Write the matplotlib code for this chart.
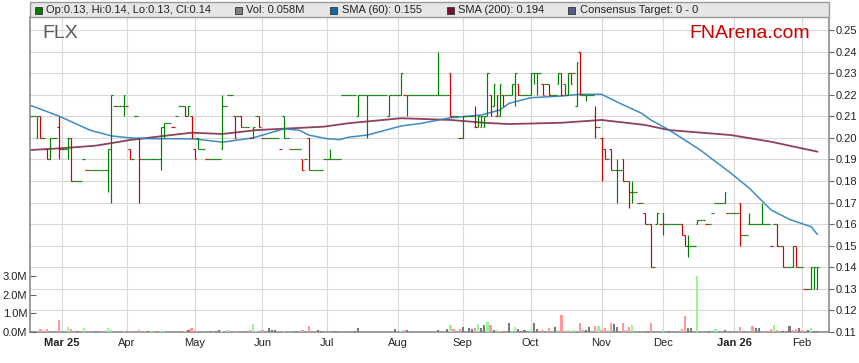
import numpy as np
import pandas as pd
import matplotlib
matplotlib.use('Agg')
from matplotlib import pyplot as plt
from matplotlib.patches import Rectangle

plt.rcParams['font.family'] = ['Liberation Sans', 'DejaVu Sans']

# business days on the chart, index 0 = 17 Feb 2025
start_day = '2025-02-17'
n_days = 256

# daily close
closes = [
    .21, .21, .21, .20, .20, .19, .20, .20, .20, .195,
    .195, .195, .20, .18, .18, .18, .18, .19, .185, .185,
    .185, .185, .185, .185, .185, .195, .22, .215, .215, .215,
    .22, .215, .19, .19, .21, .19, .19, .19, .19, .19,
    .19, .19, .205, .207, .207, .207, .205, .21, .215, .215,
    .21, .215, .20, .19, .195, .195, .195, .19, .19, .19,
    .19, .19, .215, .215, .22, .22, .20, .21, .205, .205,
    .205, .20, .205, .21, .205, .20, .20, .20, .20, .20,
    .20, .195, .20, .20, .195, .195, .195, .195, .185, .19,
    .185, .185, .185, .185, .185, .19, .19, .19, .19, .19,
    .19, .22, .22, .22, .22, .22, .22, .22, .22, .22,
    .22, .22, .22, .22, .22, .22, .22, .22, .22, .22,
    .23, .22, .22, .22, .22, .22, .22, .22, .22, .22,
    .22, .22, .22, .22, .22, .22, .21, .21, .21, .20,
    .21, .21, .21, .21, .205, .21, .21, .21, .23, .21,
    .225, .22, .225, .215, .22, .22, .225, .23, .22, .22,
    .22, .22, .23, .23, .23, .23, .22, .225, .22, .22,
    .22, .23, .22, .22, .23, .225, .23, .235, .22, .22,
    .22, .22, .22, .205, .205, .20, .19, .19, .185, .185,
    .185, .185, .18, .18, .175, .175, .175, .17, .17, .16,
    .16, .14, .14, .165, .16, .16, .16, .16, .16, .16,
    .16, .155, .15, .15, .15, .15, .162, .162, .162, .16,
    .16, .165, .17, .17, .17, .175, .165, .165, .165, .165,
    .155, .155, .155, .16, .16, .16, .16, .16, .16, .16,
    .15, .16, .15, .15, .14, .14, .14, .15, .14, .14,
    .14, .13, .13, .14, .14, .14,
]

# days that traded a range (all other days are flat at the close)
range_idx = [2, 3, 5, 6, 9, 12, 13, 25, 26, 30, 32, 35, 42, 43, 50, 51, 52, 53, 54,
             62, 66, 68, 72, 74, 82, 88, 90, 97, 106, 109, 116, 120, 122, 132, 136,
             140, 144, 145, 146, 147, 148, 149, 150, 151, 152, 153, 156, 157, 158,
             162, 163, 164, 166, 168, 171, 172, 173, 174, 175, 177, 178, 180, 183,
             185, 186, 188, 190, 192, 194, 195, 199, 201, 203, 205, 211, 212, 213,
             216, 225, 230, 233, 237, 242, 244, 247, 248, 253, 254, 255]
range_open = [.20, .21, .195, .19, .205, .20, .20, .185, .195, .215, .195, .20, .19, .205,
              .215, .21, .21, .195, .20, .195, .21, .21, .20, .21, .21, .19, .20, .19,
              .21, .22, .21, .22, .22, .22, .23, .20, .205, .205, .205, .205, .21, .22,
              .215, .21, .21, .22, .22, .225, .225, .22, .23, .23, .225, .225, .225,
              .23, .225, .22, .23, .215, .24, .22, .21, .20, .195, .195, .185, .19,
              .18, .175, .165, .16, .16, .165, .16, .155, .15, .16, .17, .17, .16, .16,
              .16, .15, .14, .15, .13, .13, .13]
range_high = [.21, .21, .195, .20, .21, .20, .20, .195, .22, .22, .195, .20, .205, .207,
              .215, .215, .21, .195, .20, .22, .21, .21, .205, .21, .21, .19, .20, .195,
              .22, .22, .22, .23, .22, .24, .23, .21, .215, .21, .21, .21, .23, .22,
              .225, .22, .225, .22, .225, .23, .225, .23, .23, .23, .225, .225, .23,
              .23, .225, .23, .23, .235, .24, .22, .215, .20, .195, .195, .19, .19,
              .18, .18, .165, .16, .165, .165, .16, .155, .155, .162, .175, .17, .165,
              .17, .16, .15, .15, .15, .14, .14, .14]
range_low = [.20, .20, .19, .19, .19, .19, .18, .175, .17, .21, .19, .17, .185, .20,
             .21, .21, .20, .19, .195, .195, .20, .205, .20, .205, .20, .185, .185, .19,
             .21, .20, .21, .22, .21, .22, .21, .20, .205, .205, .205, .205, .21, .21,
             .215, .21, .21, .215, .22, .215, .22, .22, .225, .22, .22, .22, .225,
             .22, .22, .22, .225, .215, .22, .217, .20, .18, .19, .185, .17, .18,
             .1675, .17, .16, .14, .16, .155, .155, .15, .145, .16, .17, .15, .16,
             .16, .15, .14, .14, .14, .13, .13, .13]

# volume in millions, with direction u=up d=down n=unchanged
vol_idx = [3, 4, 5, 9, 12, 13, 15, 17, 21, 25, 26, 30, 32, 35, 37, 38, 39, 42, 43,
           50, 51, 52, 53, 58, 60, 61, 62, 64, 66, 71, 72, 73, 75, 77, 78, 79, 82,
           86, 88, 90, 93, 94, 98, 99, 105, 106, 118, 120, 121, 122,
           132, 135, 136, 137, 139, 140, 142, 143, 144, 145, 146, 147, 148, 149, 150,
           151, 152, 155, 156, 157, 158, 159, 160, 162, 163, 164, 166, 168, 170, 171,
           172, 173, 174, 175, 176, 178, 179, 180, 181, 183, 184, 185, 186, 187, 188,
           189, 190, 192, 193, 194, 195, 200, 201, 205, 207, 211, 212, 213, 214, 216,
           220, 222, 225, 230, 234, 235, 236, 238, 240, 241, 242, 244, 246, 247, 248,
           249, 250, 252, 253, 254, 255]
vol_m = [.14, .05, .14, .62, .25, .14, .05, .21, .05, .21, .11, .05, .05, .1, .05, .05,
         .05, .05, .05, .05, .1, .2, .1, .05, .05, .1, .05, .1, .05, .12, .41, .05, .1,
         .2, .1, .1, .05, .05, .1, .32, .1, .05, .05, .05, .05, .21, .14, .05, .1, .1,
         .09, .14, .36, .14, .14, .25, .2, .14, .2, .41, .2, .36, .53, .36, .09,
         .09, .05, .48, .05, .27, .14, .05, .09, .14, .48, .14, .09, .21, .27, .09,
         .89, .05, .09, .05, .09, .48, .09, .09, .27, .32, .32, .09, .2, .09, .48,
         .41, .27, .48, .09, .27, .36, .05, .48, .09, .05, .14, .86, .2, .21, 3.0,
         .05, .14, .09, .27, .32, .2, .2, .05, .14, .36, .09, .05, .32, .09, .14,
         .2, .09, .09, .2, .05, .05]
vol_dir = ''.join([
    'ddddudnunuuudddnuuu',
    'dnddnnnuudduudnnnu',
    'nddnnnnnnnudn',
    'nnuddnnndunnudn',
    'udnuunnnunnddnu',
    'ddududdnnduddud',
    'nndddundunddnnu',
    'nunddnnddudnndd',
    'ndnunn',
])

# moving averages
sma60_idx = [0, 9, 19, 26, 32, 39, 45, 53, 62, 72, 82, 87, 90, 96, 100, 103, 109,
             120, 126, 136, 140, 146, 152, 155, 162, 172, 178, 185, 191, 198, 201,
             207, 217, 227, 233, 240, 246, 253, 255]
sma60_val = [.2149, .2101, .2036, .2009, .2000, .1996, .1996, .1995, .1980, .2000,
             .2042, .2035, .2013, .1996, .1992, .2003, .2013, .2055, .2066, .2093,
             .2098, .2106, .2129, .2160, .2186, .2194, .2202, .2202, .2160, .2114,
             .2083, .2036, .1944, .1836, .1766, .1666, .1622, .1588, .1553]
sma200_idx = [0, 10, 21, 27, 32, 43, 52, 62, 73, 84, 95, 103, 120, 136, 147, 155,
              172, 185, 199, 207, 227, 240, 255]
sma200_val = [.1944, .1952, .1964, .1978, .1990, .2009, .2024, .2018, .2036, .2044,
              .2052, .2068, .2091, .2083, .2070, .2064, .2070, .2083, .2060, .2036,
              .2013, .1982, .1936]

month_labels = ['Mar 25', 'Apr', 'May', 'Jun', 'Jul', 'Aug', 'Sep', 'Oct', 'Nov',
                'Dec', 'Jan 26', 'Feb']
price_ticks = [0.11, 0.12, 0.13, 0.14, 0.15, 0.16, 0.17, 0.18, 0.19, 0.20, 0.21,
               0.22, 0.23, 0.24, 0.25]
vol_ticks = [0, 1, 2, 3]

legend_items = [
    ('Op:0.13, Hi:0.14, Lo:0.13, Cl:0.14', '#007a00', 35),
    ('Vol: 0.058M', '#808080', 235),
    ('SMA (60): 0.155', '#0f6aac', 330),
    ('SMA (200): 0.194', '#7a0f2e', 447),
    ('Consensus Target: 0 - 0', '#5a5a8c', 568),
]

# ---------------------------------------------------------------
W, H = 859, 363
fig = plt.figure(figsize=(W / 100, H / 100), dpi=100)
fig.patch.set_facecolor('white')
L, R, T, B = 30, 829, 17, 332
ax = fig.add_axes([L / W, 1 - B / H, (R - L) / W, (B - T) / H])
axv = ax.twinx()

days = pd.bdate_range(start_day, periods=n_days)
x = np.arange(n_days)
c = np.array(closes)
o = c.copy()
hi = c.copy()
lo = c.copy()
o[range_idx] = range_open
hi[range_idx] = range_high
lo[range_idx] = range_low

prev = np.r_[c[0], c[:-1]]
cols = np.where(c >= prev - 1e-9, '#008000', '#d00000')

ax.vlines(x, lo, hi, colors=cols, lw=0.85, zorder=3)
ax.hlines(o, x - 0.5, x, colors=cols, lw=0.85, zorder=3)
ax.hlines(c, x, x + 0.5, colors=cols, lw=0.85, zorder=3)

ax.plot(sma200_idx, sma200_val, color='#741232', lw=1.3, alpha=0.8, zorder=2)
ax.plot(sma60_idx, sma60_val, color='#2a7fc0', lw=1.1, alpha=0.9, zorder=2)

vcol = {'u': '#99f599', 'd': '#ff9999', 'n': '#7a7a7a'}
axv.bar(vol_idx, vol_m, width=0.7, color=[vcol[k] for k in vol_dir], lw=0)

# month gridlines at first business day of each month
m = days.to_period('M')
first = [i for i in range(1, n_days) if m[i] != m[i - 1]]
ax.set_xticks(first)
ax.set_xticklabels(month_labels)
for lab in ax.get_xticklabels():
    if ' ' in lab.get_text():
        lab.set_fontweight('bold')
ax.tick_params(axis='x', length=0, pad=4, labelsize=8, labelcolor='#222222')

ax.set_xlim(-0.4, 258.8)
ax.set_ylim(0.11, 0.25603)
axv.set_ylim(0, 16.84)

ax.yaxis.tick_right()
ax.set_yticks(price_ticks)
ax.set_yticklabels(['%.2f' % v for v in price_ticks])
ax.tick_params(axis='y', direction='out', length=3.5, width=0.8, pad=1.5,
               labelsize=8, labelcolor='#222222', color='#666666')

axv.yaxis.tick_left()
axv.set_yticks(vol_ticks)
axv.set_yticklabels(['%.1fM' % v for v in vol_ticks])
axv.tick_params(axis='y', direction='in', length=4, width=0.8, pad=2,
                labelsize=8, labelcolor='#222222', color='#666666')

ax.grid(True, color='#d9d9d9', lw=0.8)
ax.set_axisbelow(True)
for s in axv.spines.values():
    s.set_visible(False)
ax.spines['top'].set_visible(False)
for k in ['left', 'bottom', 'right']:
    ax.spines[k].set_color('#8c8c8c')
    ax.spines[k].set_linewidth(1.2)

# legend band
fig.patches.append(Rectangle((L / W, 1 - T / H), (R - L) / W, 15 / H,
                             transform=fig.transFigure, facecolor='#e6e6e6',
                             edgecolor='#9a9a9a', lw=1.0))
for text, col, sx in legend_items:
    fig.patches.append(Rectangle((sx / W, 1 - 13.5 / H), 7 / W, 7 / H,
                                 transform=fig.transFigure, facecolor=col,
                                 edgecolor='#333333', lw=0.6))
    fig.text((sx + 11.5) / W, 1 - 10 / H, text, fontsize=8, color='#222222',
             ha='left', va='center')

fig.text(42 / W, 1 - 33 / H, 'FLX', fontsize=14, color='#5a5a5a', ha='left', va='center')
fig.text(750 / W, 1 - 33 / H, 'FNArena.com', fontsize=14, color='#cc0000',
         ha='center', va='center')

fig.savefig('out.png', dpi=100)
